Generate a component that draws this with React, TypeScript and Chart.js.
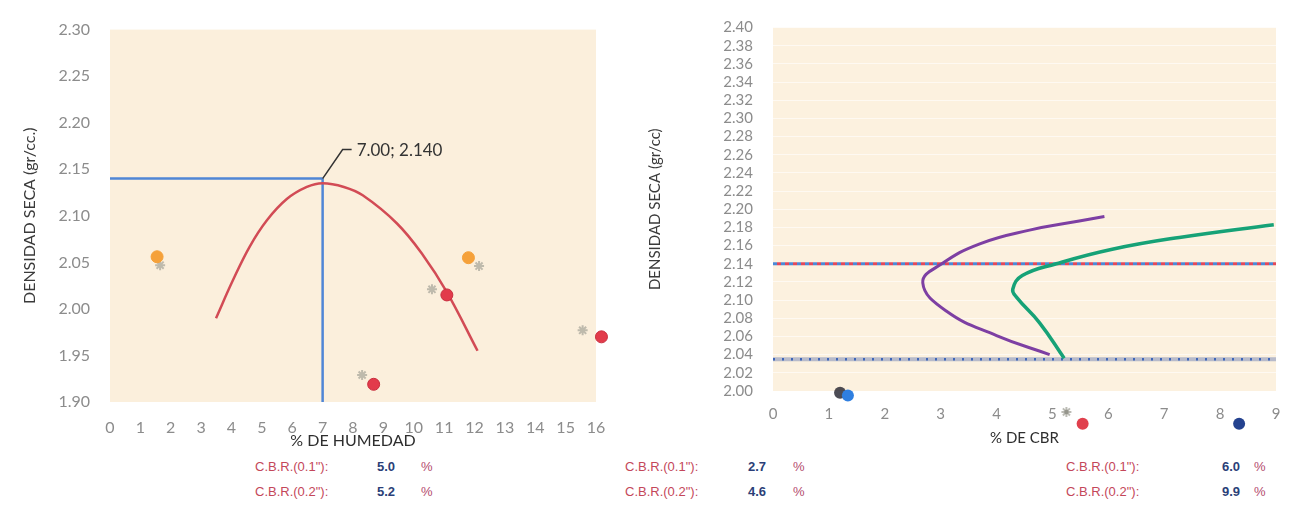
import React, { useEffect, useRef } from 'react';
import { Chart, registerables } from 'chart.js';
Chart.register(...registerables);

// ---------- Left chart data (Proctor) ----------
const humXTicks = [0, 1, 2, 3, 4, 5, 6, 7, 8, 9, 10, 11, 12, 13, 14, 15, 16];
const humYTicks = [1.9, 1.95, 2.0, 2.05, 2.1, 2.15, 2.2, 2.25, 2.3];
const curveX = [3.49, 4.05, 4.6, 5.16, 5.82, 6.48, 7.0, 7.7, 8.32, 9.44, 10.3, 11.09, 12.1];
const curveY = [1.99, 2.031, 2.067, 2.095, 2.118, 2.131, 2.135, 2.131, 2.122, 2.092, 2.058, 2.018, 1.955];
const orangeX = [1.55, 11.8];
const orangeY = [2.056, 2.055];
const grayX = [1.65, 10.6, 12.15, 8.3, 15.56];
const grayY = [2.047, 2.021, 2.046, 1.929, 1.977];
const redX = [11.09, 8.68, 16.18];
const redY = [2.015, 1.919, 1.97];
const optHum = 7.0;
const maxDens = 2.14;
const optLabel = '7.00; 2.140';

// ---------- Right chart data (CBR) ----------
const cbrXTicks = [0, 1, 2, 3, 4, 5, 6, 7, 8, 9];
const cbrYTicks = [2.0, 2.02, 2.04, 2.06, 2.08, 2.1, 2.12, 2.14, 2.16, 2.18, 2.2, 2.22, 2.24, 2.26, 2.28, 2.3, 2.32, 2.34, 2.36, 2.38, 2.4];
const purpleX = [4.95, 4.0, 3.1, 2.68, 3.02, 3.7, 4.59, 5.48, 5.93];
const purpleY = [2.04, 2.061, 2.088, 2.119, 2.14, 2.162, 2.177, 2.187, 2.192];
const greenX = [5.21, 4.77, 4.36, 4.29, 4.46, 5.07, 6.07, 7.27, 8.96];
const greenY = [2.036, 2.075, 2.103, 2.112, 2.127, 2.14, 2.156, 2.169, 2.183];
const densMaxLine = 2.14;
const dens95Line = 2.035;
const cbrRange = [0, 9];
const cbrPtBlackX = [1.2];
const cbrPtBlackY = [1.998];
const cbrPtBlueX = [1.34];
const cbrPtBlueY = [1.995];
const cbrPtGrayX = [5.25];
const cbrPtGrayY = [1.977];
const cbrPtRedX = [5.54];
const cbrPtRedY = [1.964];
const cbrPtNavyX = [8.34];
const cbrPtNavyY = [1.964];

// ---------- Bottom results ----------
const cbrLabels = ['C.B.R.(0.1"):', 'C.B.R.(0.2"):'];
const cbrGroupA = ['5.0', '5.2'];
const cbrGroupB = ['2.7', '4.6'];
const cbrGroupC = ['6.0', '9.9'];

const pts = (xs: number[], ys: number[]) => xs.map((x, i) => ({ x, y: ys[i] }));

const FONT = 'Lato, "Open Sans", sans-serif';
const TICK_COLOR = '#8c8c8c';

const bgPlugin = (color: string) => ({
  id: 'bgArea',
  beforeDraw(chart: any) {
    const { ctx, chartArea } = chart;
    ctx.save();
    ctx.fillStyle = color;
    ctx.fillRect(chartArea.left, chartArea.top, chartArea.right - chartArea.left, chartArea.bottom - chartArea.top);
    ctx.restore();
  },
});

const labelPlugin = {
  id: 'optLabel',
  afterDatasetsDraw(chart: any) {
    const { ctx, scales } = chart;
    const px = scales.x.getPixelForValue(optHum);
    const py = scales.y.getPixelForValue(maxDens);
    ctx.save();
    ctx.strokeStyle = '#333';
    ctx.lineWidth = 1.5;
    ctx.beginPath();
    ctx.moveTo(px, py);
    ctx.lineTo(px + 20, py - 29);
    ctx.lineTo(px + 29, py - 29);
    ctx.stroke();
    ctx.fillStyle = '#333';
    ctx.font = `17px ${FONT}`;
    ctx.textBaseline = 'middle';
    ctx.fillText(optLabel, px + 34, py - 28);
    ctx.restore();
  },
};

type Marker = { xs: number[]; ys: number[]; fill: string; stroke: string; r: number; star?: boolean };

// Markers that sit below the axis minimum: drawn through the chart's scales, unclipped.
const outsideMarkersPlugin = (markers: Marker[]) => ({
  id: 'outsideMarkers',
  afterDatasetsDraw(chart: any) {
    const { ctx, scales } = chart;
    ctx.save();
    markers.forEach((m) => {
      m.xs.forEach((xv, i) => {
        const px = scales.x.getPixelForValue(xv);
        const py = scales.y.getPixelForValue(m.ys[i]);
        ctx.fillStyle = m.fill;
        ctx.strokeStyle = m.stroke;
        ctx.lineWidth = 2;
        if (m.star) {
          ctx.beginPath();
          for (let k = 0; k < 4; k++) {
            const a = (Math.PI / 4) * k;
            ctx.moveTo(px + Math.cos(a) * m.r, py + Math.sin(a) * m.r);
            ctx.lineTo(px - Math.cos(a) * m.r, py - Math.sin(a) * m.r);
          }
          ctx.stroke();
          ctx.beginPath();
          ctx.arc(px, py, m.r * 0.45, 0, Math.PI * 2);
          ctx.fill();
        } else {
          ctx.beginPath();
          ctx.arc(px, py, m.r, 0, Math.PI * 2);
          ctx.fill();
        }
      });
    });
    ctx.restore();
  },
});

function LeftChart() {
  const ref = useRef<HTMLCanvasElement>(null);
  useEffect(() => {
    const chart = new Chart(ref.current!, {
      type: 'scatter',
      data: {
        datasets: [
          { data: pts(redX, redY), backgroundColor: '#e23b4b', borderColor: '#c92f3f', borderWidth: 1, pointRadius: 6, clip: false } as any,
          { data: pts(orangeX, orangeY), backgroundColor: '#f5a13a', borderColor: '#f5a13a', pointRadius: 6, clip: false },
          { data: pts(grayX, grayY), backgroundColor: 'rgba(140,140,130,0.75)', borderColor: 'rgba(150,150,140,0.6)', borderWidth: 2, pointStyle: 'star', pointRadius: 5, clip: false },
          { data: pts(curveX, curveY), showLine: true, borderColor: '#d24b55', borderWidth: 2.5, pointRadius: 0, tension: 0.4 },
          { data: [{ x: 0, y: maxDens }, { x: optHum, y: maxDens }], showLine: true, borderColor: '#4f86d6', borderWidth: 2.5, pointRadius: 0 },
          { data: [{ x: optHum, y: maxDens }, { x: optHum, y: humYTicks[0] }], showLine: true, borderColor: '#4f86d6', borderWidth: 2.5, pointRadius: 0 },
        ],
      },
      options: {
        animation: false,
        responsive: false,
        events: [],
        layout: { padding: { left: 0, right: 44, top: 17, bottom: 0 } },
        plugins: { legend: { display: false }, tooltip: { enabled: false } },
        scales: {
          x: {
            type: 'linear',
            min: humXTicks[0],
            max: humXTicks[humXTicks.length - 1],
            afterBuildTicks: (s: any) => { s.ticks = humXTicks.map((v) => ({ value: v })); },
            afterFit: (s: any) => { s.height = 48; },
            grid: { display: false, drawTicks: false },
            border: { display: false },
            ticks: { autoSkip: false, maxRotation: 0, padding: 16, color: TICK_COLOR, font: { family: FONT, size: 16 }, callback: (v: any) => String(v) },
            title: { display: true, text: '% DE HUMEDAD', color: '#2e2e2e', font: { family: FONT, size: 16 }, padding: { top: 0, bottom: 0 } },
          },
          y: {
            type: 'linear',
            min: humYTicks[0],
            max: humYTicks[humYTicks.length - 1],
            afterBuildTicks: (s: any) => { s.ticks = humYTicks.map((v) => ({ value: v })); },
            afterFit: (s: any) => { s.width = 110; },
            grid: { display: false, drawTicks: false },
            border: { display: false },
            ticks: { autoSkip: false, padding: 20, color: TICK_COLOR, font: { family: FONT, size: 16 }, callback: (v: any) => Number(v).toFixed(2) },
            title: { display: true, text: 'DENSIDAD SECA (gr/cc.)', color: '#3a3a3a', font: { family: FONT, size: 16 }, padding: { top: 20, bottom: 0 } },
          },
        },
      },
      plugins: [bgPlugin('#fbefdc'), labelPlugin],
    } as any);
    return () => chart.destroy();
  }, []);
  return <canvas ref={ref} width={640} height={450} style={{ position: 'absolute', left: 0, top: 0, width: 640, height: 450 }} />;
}

function RightChart() {
  const ref = useRef<HTMLCanvasElement>(null);
  useEffect(() => {
    const hl = (y: number) => [{ x: cbrRange[0], y }, { x: cbrRange[1], y }];
    const markers: Marker[] = [
      { xs: cbrPtBlackX, ys: cbrPtBlackY, fill: 'rgba(45,45,55,0.85)', stroke: 'rgba(45,45,55,0.5)', r: 6 },
      { xs: cbrPtBlueX, ys: cbrPtBlueY, fill: '#2f7fe0', stroke: '#2f7fe0', r: 6 },
      { xs: cbrPtGrayX, ys: cbrPtGrayY, fill: 'rgba(140,140,130,0.8)', stroke: 'rgba(160,160,150,0.7)', r: 5, star: true },
      { xs: cbrPtRedX, ys: cbrPtRedY, fill: '#e0404d', stroke: '#e0404d', r: 6 },
      { xs: cbrPtNavyX, ys: cbrPtNavyY, fill: '#24428f', stroke: '#24428f', r: 6 },
    ];
    const chart = new Chart(ref.current!, {
      type: 'scatter',
      data: {
        datasets: [
          { data: pts(purpleX, purpleY), showLine: true, borderColor: '#7d3fa3', borderWidth: 3, pointRadius: 0, tension: 0.45 } as any,
          { data: pts(greenX, greenY), showLine: true, borderColor: '#16a277', borderWidth: 3.5, pointRadius: 0, tension: 0.45 },
          { data: hl(densMaxLine), showLine: true, borderColor: '#e2485a', borderWidth: 3, borderDash: [4, 4], borderDashOffset: 4, pointRadius: 0 },
          { data: hl(densMaxLine), showLine: true, borderColor: '#4a8ad8', borderWidth: 3, borderDash: [4, 4], pointRadius: 0 },
          { data: hl(dens95Line), showLine: true, borderColor: '#3f66b8', borderWidth: 2.5, borderDash: [2, 7], pointRadius: 0 },
          { data: hl(dens95Line), showLine: true, borderColor: 'rgba(175,180,200,0.9)', borderWidth: 4, pointRadius: 0 },
        ],
      },
      options: {
        animation: false,
        responsive: false,
        events: [],
        layout: { padding: { left: 0, right: 28, top: 11, bottom: 0 } },
        plugins: { legend: { display: false }, tooltip: { enabled: false } },
        scales: {
          x: {
            type: 'linear',
            min: cbrXTicks[0],
            max: cbrXTicks[cbrXTicks.length - 1],
            afterBuildTicks: (s: any) => { s.ticks = cbrXTicks.map((v) => ({ value: v })); },
            afterFit: (s: any) => { s.height = 59; },
            grid: { display: false, drawTicks: false },
            border: { display: false },
            ticks: { autoSkip: false, maxRotation: 0, padding: 14, color: TICK_COLOR, font: { family: FONT, size: 15 }, callback: (v: any) => String(v) },
            title: { display: true, text: '% DE CBR', color: '#2e2e2e', font: { family: FONT, size: 15 }, padding: { top: 0, bottom: 3 } },
          },
          y: {
            type: 'linear',
            min: cbrYTicks[0],
            max: cbrYTicks[cbrYTicks.length - 1],
            afterBuildTicks: (s: any) => { s.ticks = cbrYTicks.map((v) => ({ value: v })); },
            afterFit: (s: any) => { s.width = 133; },
            grid: { display: true, drawTicks: false, color: 'rgba(255,255,255,0.6)', lineWidth: 1 },
            border: { display: false },
            ticks: { autoSkip: false, padding: 20, color: TICK_COLOR, font: { family: FONT, size: 15, lineHeight: 1 }, callback: (v: any) => Number(v).toFixed(2) },
            title: { display: true, text: 'DENSIDAD SECA (gr/cc)', color: '#3a3a3a', font: { family: FONT, size: 15 }, padding: { top: 6, bottom: 0 } },
          },
        },
      },
      plugins: [bgPlugin('#fcf1df'), outsideMarkersPlugin(markers)],
    } as any);
    return () => chart.destroy();
  }, []);
  return <canvas ref={ref} width={664} height={450} style={{ position: 'absolute', left: 640, top: 0, width: 664, height: 450 }} />;
}

const txtBase: React.CSSProperties = { position: 'absolute', fontFamily: '"Liberation Sans", Arial, sans-serif', fontSize: 13, lineHeight: '16px', whiteSpace: 'nowrap' };

function ResultGroup({ lx, vx, px, values }: { lx: number; vx: number; px: number; values: string[] }) {
  const rows = [459, 484];
  return (
    <>
      {rows.map((top, i) => (
        <React.Fragment key={i}>
          <div style={{ ...txtBase, left: lx, top, color: '#c4475a' }}>{cbrLabels[i]}</div>
          <div style={{ ...txtBase, left: vx, top, color: '#2b3f78', fontWeight: 'bold' }}>{values[i]}</div>
          <div style={{ ...txtBase, left: px, top, color: '#b44c6e' }}>%</div>
        </React.Fragment>
      ))}
    </>
  );
}

export default function App() {
  return (
    <div style={{ position: 'fixed', left: 0, top: 0, width: 1304, height: 509, background: '#ffffff', overflow: 'hidden' }}>
      <LeftChart />
      <RightChart />
      <ResultGroup lx={255} vx={377} px={421} values={cbrGroupA} />
      <ResultGroup lx={625} vx={748} px={793} values={cbrGroupB} />
      <ResultGroup lx={1066} vx={1222} px={1254} values={cbrGroupC} />
    </div>
  );
}
